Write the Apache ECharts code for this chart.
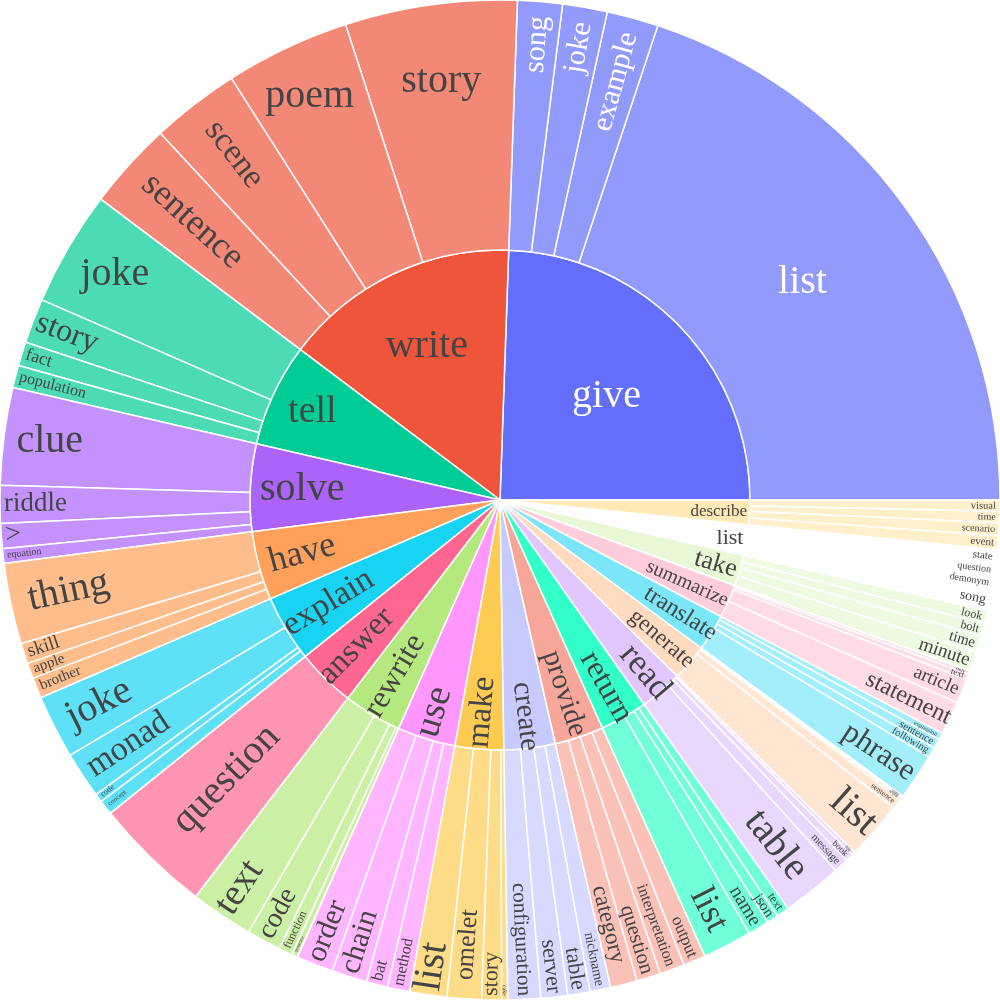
<!DOCTYPE html>
<html>
<head>
<meta charset="utf-8">
<script src="https://cdn.jsdelivr.net/npm/echarts@6/dist/echarts.min.js"></script>
<style>
  html, body { margin: 0; padding: 0; background: #fff; }
  #chart { width: 1000px; height: 1000px; }
</style>
</head>
<body>
<div id="chart"></div>
<script>
// root verbs, counter-clockwise from 3 o'clock
const verbs = ['give', 'write', 'tell', 'solve', 'have', 'explain', 'answer', 'rewrite', 'use', 'make',
  'create', 'provide', 'return', 'read', 'generate', 'translate', 'summarize', 'take', 'list', 'describe'];

// noun objects of each verb
const nouns = [
  ['list', 'example', 'joke', 'song'],
  ['story', 'poem', 'scene', 'sentence'],
  ['joke', 'story', 'fact', 'population'],
  ['clue', 'riddle', '>', 'equation'],
  ['thing', 'skill', 'apple', 'brother'],
  ['joke', 'monad', 'code', 'concept'],
  ['question'],
  ['text', 'code', 'function', 'sentence'],
  ['order', 'chain', 'bat', 'method'],
  ['list', 'omelet', 'story', 'cake'],
  ['configuration', 'server', 'table', 'nickname'],
  ['category', 'question', 'interpretation', 'output'],
  ['list', 'name', 'json', 'text'],
  ['table', 'message', 'book', 'file'],
  ['list', 'sentence', 'word', 'name'],
  ['phrase', 'following', 'sentence', 'expression'],
  ['statement', 'article', 'text', 'story'],
  ['minute', 'time', 'bolt', 'look'],
  ['song', 'demonym', 'question', 'state'],
  ['event', 'scenario', 'time', 'visual']
];

// counts of each verb-noun pair
const counts = [
  [716, 60, 52, 52],
  [200, 145, 103, 102],
  [134, 52, 28, 26],
  [113, 44, 29, 17],
  [94, 24, 18, 24],
  [74, 54, 10, 17],
  [137],
  [73, 40, 16, 7],
  [43, 41, 25, 26],
  [43, 40, 23, 7],
  [38, 31, 26, 24],
  [31, 28, 29, 26],
  [57, 25, 13, 15],
  [70, 17, 9, 4],
  [68, 12, 3, 2],
  [54, 12, 11, 8],
  [39, 29, 6, 4],
  [23, 19, 15, 15],
  [25, 15, 15, 16],
  [16, 15, 13, 13]
];

// ---- styling ----
const baseColors = ['#636efa', '#EF553B', '#00cc96', '#ab63fa', '#FFA15A',
  '#19d3f3', '#FF6692', '#B6E880', '#FF97FF', '#FECB52'];
const FONT = 'Liberation Serif';
const R_IN = 250, R_OUT = 500;

const verbFont = [40, 40, 38, 40, 36, 34, 33, 32, 38, 33, 29, 29, 32, 35, 23, 24, 20, 26, 22, 17];
const nounFont = [
  [40, 30, 30, 30],
  [40, 40, 34, 36],
  [40, 32, 18, 16],
  [40, 27, 28, 10],
  [40, 19, 15, 15],
  [40, 34, 8, 7],
  [40],
  [38, 28, 12, 5],
  [30, 30, 17, 16],
  [40, 26, 22, 6],
  [21, 22, 22, 14],
  [23, 21, 16, 17],
  [36, 20, 15, 12],
  [40, 11, 9, 5],
  [40, 8, 5, 4],
  [31, 10.5, 11, 6],
  [24, 19, 9, 5],
  [19, 15, 12, 12],
  [14, 10, 10, 11],
  [11, 10, 10, 10.5]
];

// label centre distance from the middle, where it is not simply pushed to the rim
const labelR = {
  'give': 148, 'write': 170, 'tell': 207, 'solve': 198, 'have': 205, 'explain': 200,
  'answer': 205, 'rewrite': 205, 'use': 222, 'make': 213, 'create': 218, 'provide': 204,
  'return': 215, 'read': 225, 'generate': 213, 'translate': 213, 'summarize': 205,
  'take': 225, 'list': 233, 'describe': 219,
  'give/list': 373, 'give/example': 434, 'give/joke': 459, 'give/song': 457,
  'write/story': 422, 'write/poem': 446, 'write/scene': 436, 'write/sentence': 415,
  'tell/joke': 446, 'solve/clue': 454, 'have/thing': 441,
  'explain/joke': 450, 'explain/monad': 445, 'answer/question': 391,
  'rewrite/text': 467, 'make/omelet': 446, 'create/configuration': 440,
  'provide/category': 438, 'return/list': 460, 'read/table': 442,
  'translate/phrase': 455, 'summarize/statement': 454
};
const flat = new Set(['give', 'write', 'tell', 'solve', 'list', 'describe',
  'give/list', 'write/story', 'write/poem', 'tell/joke', 'solve/clue']);

function hexToRgb(hex) {
  const n = parseInt(hex.slice(1), 16);
  return [(n >> 16) & 255, (n >> 8) & 255, n & 255];
}
function rgbStr(c) {
  return 'rgb(' + c.map(v => Math.round(v)).join(',') + ')';
}
// same as tinycolor lighten
function lighten(hex, amount) {
  let [r, g, b] = hexToRgb(hex).map(v => v / 255);
  const max = Math.max(r, g, b), min = Math.min(r, g, b);
  let h = 0, s = 0, l = (max + min) / 2;
  if (max !== min) {
    const d = max - min;
    s = l > 0.5 ? d / (2 - max - min) : d / (max + min);
    if (max === r) h = (g - b) / d + (g < b ? 6 : 0);
    else if (max === g) h = (b - r) / d + 2;
    else h = (r - g) / d + 4;
    h /= 6;
  }
  l = Math.min(1, l + amount / 100);
  const hue = (p, q, t) => {
    if (t < 0) t += 1;
    if (t > 1) t -= 1;
    if (t < 1 / 6) return p + (q - p) * 6 * t;
    if (t < 1 / 2) return q;
    if (t < 2 / 3) return p + (q - p) * (2 / 3 - t) * 6;
    return p;
  };
  if (s === 0) return rgbStr([l * 255, l * 255, l * 255]);
  const q = l < 0.5 ? l * (1 + s) : l + s - l * s;
  const p = 2 * l - q;
  return rgbStr([hue(p, q, h + 1 / 3) * 255, hue(p, q, h) * 255, hue(p, q, h - 1 / 3) * 255]);
}
// leaf colour: parent at 0.7 opacity over white
function fade(col, a) {
  const c = col[0] === '#' ? hexToRgb(col) : col.match(/\d+/g).map(Number);
  return rgbStr(c.map(v => v * a + 255 * (1 - a)));
}

const ctx = document.createElement('canvas').getContext('2d');
function textWidth(s, size) {
  ctx.font = size + 'px "' + FONT + '"';
  return ctx.measureText(s).width;
}

// echarts puts the label in the middle of the ring; shift it with padding to radius R
function makeLabel(size, color, phi, rMid, R, flatText) {
  const rad = Math.PI / 180;
  const theta = flatText ? 0 : (Math.cos(phi * rad) >= 0 ? phi : phi - 180);
  const d = R - rMid;
  const a = d * Math.cos((phi - theta) * rad);
  const b = d * Math.sin((theta - phi) * rad);
  return {
    show: true,
    rotate: theta,
    fontSize: size,
    fontFamily: FONT,
    color: color,
    lineHeight: 1,
    verticalAlign: b >= 0 ? 'top' : 'bottom',
    padding: [Math.max(b, 0), Math.max(-2 * a, 0), Math.max(-b, 0), Math.max(2 * a, 0)]
  };
}

const total = counts.flat().reduce((s, v) => s + v, 0);
let acc = 0;
const seriesData = verbs.map((verb, i) => {
  const col = i < 10 ? baseColors[i] : lighten(baseColors[i - 10], 20);
  const txt = i === 0 ? '#fff' : '#444';
  const start = acc;
  const children = nouns[i].map((noun, j) => {
    const span = counts[i][j] / total * 360;
    const phi = acc + span / 2;
    acc += span;
    const key = verb + '/' + noun;
    const size = nounFont[i][j];
    const R = labelR[key] != null ? labelR[key] : R_OUT - 4 - textWidth(noun, size) / 2;
    return {
      name: noun,
      value: counts[i][j],
      itemStyle: { color: fade(col, 0.7) },
      label: makeLabel(size, txt, phi, (R_IN + R_OUT) / 2, R, flat.has(key))
    };
  });
  return {
    name: verb,
    itemStyle: { color: col },
    label: makeLabel(verbFont[i], txt, (start + acc) / 2, R_IN / 2, labelR[verb], flat.has(verb)),
    children: children
  };
});

const chart = echarts.init(document.getElementById('chart'));
chart.setOption({
  animation: false,
  series: [{
    type: 'sunburst',
    center: ['50%', '50%'],
    radius: [0, R_OUT],
    startAngle: 0,
    clockwise: false,
    sort: null,
    nodeClick: false,
    emphasis: { disabled: true },
    itemStyle: { borderColor: '#fff', borderWidth: 1.5 },
    label: { rotate: 'radial', align: 'center' },
    levels: [
      {},
      { r0: 0, r: R_IN },
      { r0: R_IN, r: R_OUT }
    ],
    data: seriesData
  }]
});
</script>
</body>
</html>
